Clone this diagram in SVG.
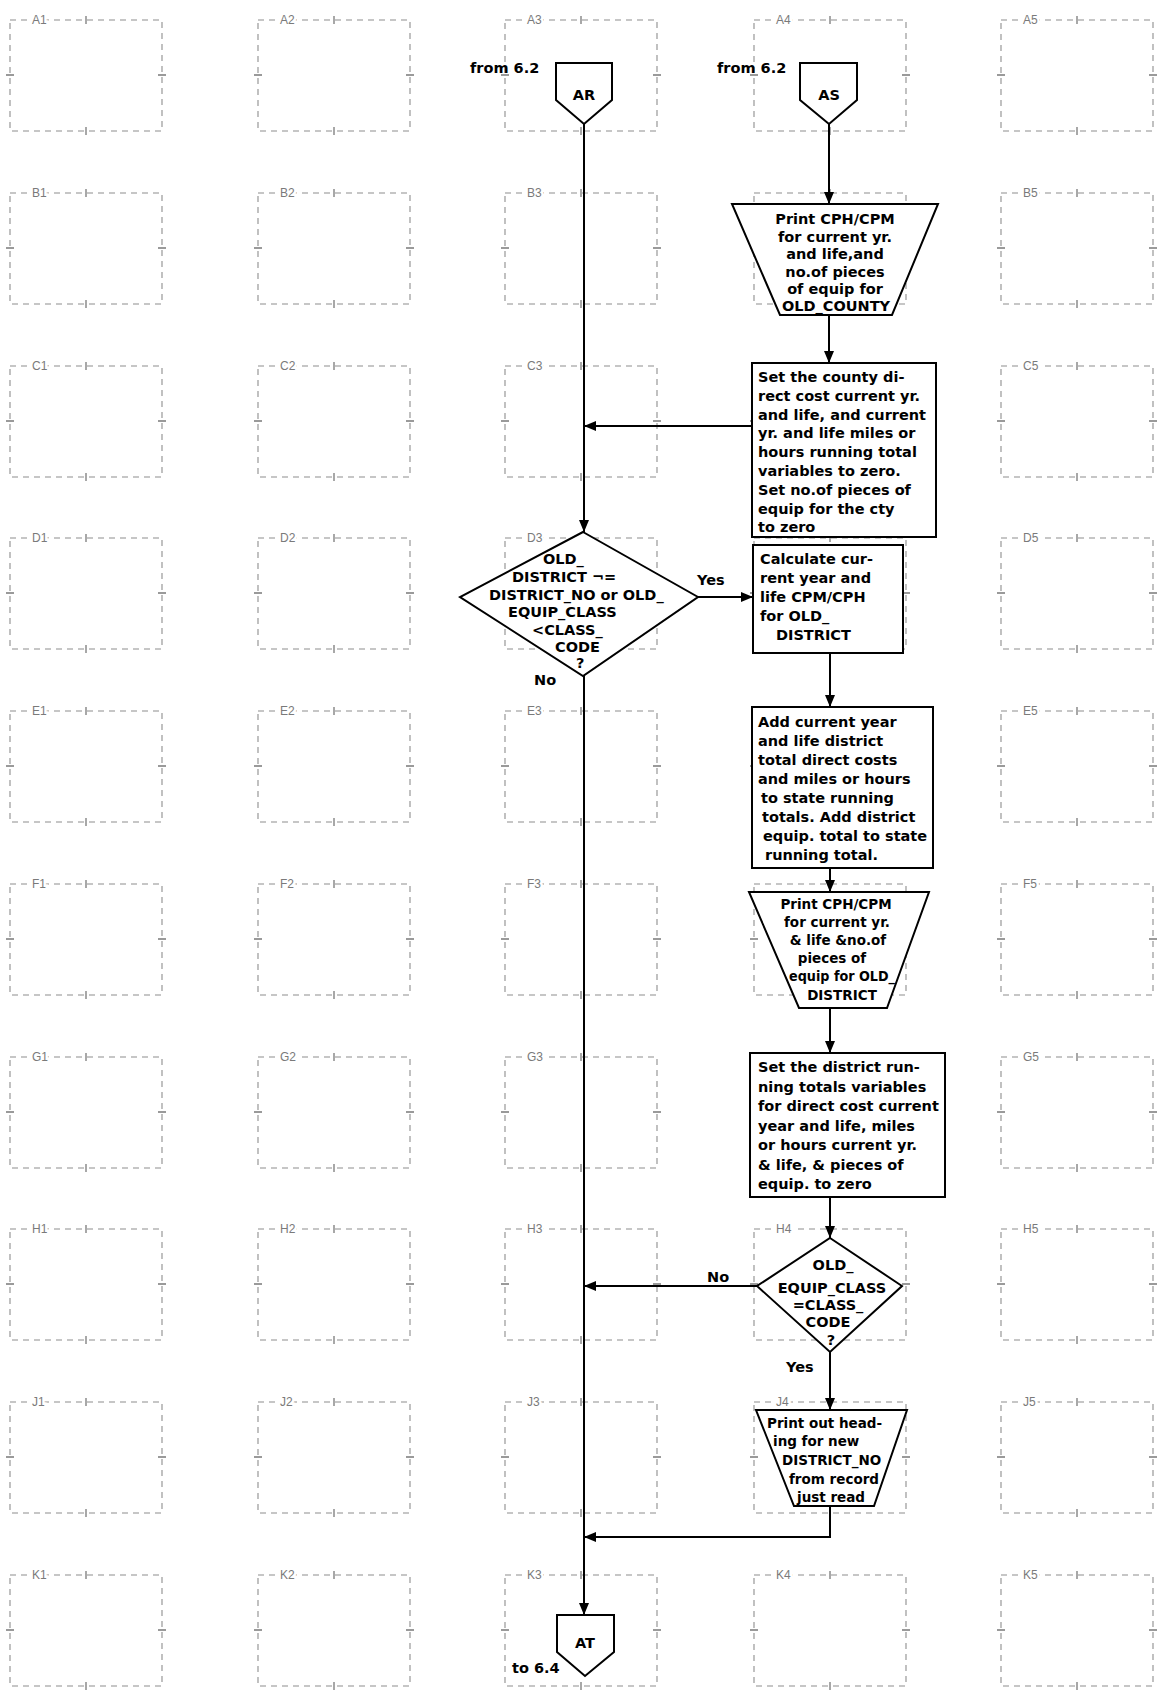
<svg xmlns="http://www.w3.org/2000/svg" xmlns:xlink="http://www.w3.org/1999/xlink" width="1167" height="1691" viewBox="0 0 1167 1691">
<defs>
<style>
.cellbox{fill:none;stroke:#8e8e8e;stroke-width:1.1;stroke-dasharray:6 5}
.tick{stroke:#7a7a7a;stroke-width:1.3}
.glabel{font-family:"Liberation Sans",Arial,sans-serif;font-size:12px;fill:#7a7a7a;stroke:#fff;stroke-width:5px;paint-order:stroke}
.shape{fill:#fff;stroke:#000;stroke-width:2}
.t{font-family:"DejaVu Sans","Liberation Sans",sans-serif;font-weight:bold;font-size:14.5px;fill:#000}
.s{font-size:13.5px}
.c{text-anchor:middle}
.edge{fill:none;stroke:#000;stroke-width:2}
</style>
<marker id="arrow" viewBox="0 0 12 10" refX="12" refY="5" markerWidth="12" markerHeight="10" markerUnits="userSpaceOnUse" orient="auto">
<path d="M0,0 L12,5 L0,10 z" fill="#000"/>
</marker>
<g id="cell">
<rect class="cellbox" x="0" y="0" width="152" height="111"/>
<path class="tick" d="M76,-4V4M76,107V115M-4,55H4M148,55H156"/>
</g>
</defs>
<rect width="1167" height="1691" fill="#fff"/>

<!-- reference grid: rows A-K, columns 1-5 -->
<g id="grid">
<use xlink:href="#cell" x="10" y="20"/><use xlink:href="#cell" x="258" y="20"/><use xlink:href="#cell" x="505" y="20"/><use xlink:href="#cell" x="754" y="20"/><use xlink:href="#cell" x="1001" y="20"/>
<use xlink:href="#cell" x="10" y="193"/><use xlink:href="#cell" x="258" y="193"/><use xlink:href="#cell" x="505" y="193"/><use xlink:href="#cell" x="754" y="193"/><use xlink:href="#cell" x="1001" y="193"/>
<use xlink:href="#cell" x="10" y="366"/><use xlink:href="#cell" x="258" y="366"/><use xlink:href="#cell" x="505" y="366"/><use xlink:href="#cell" x="754" y="366"/><use xlink:href="#cell" x="1001" y="366"/>
<use xlink:href="#cell" x="10" y="538"/><use xlink:href="#cell" x="258" y="538"/><use xlink:href="#cell" x="505" y="538"/><use xlink:href="#cell" x="754" y="538"/><use xlink:href="#cell" x="1001" y="538"/>
<use xlink:href="#cell" x="10" y="711"/><use xlink:href="#cell" x="258" y="711"/><use xlink:href="#cell" x="505" y="711"/><use xlink:href="#cell" x="754" y="711"/><use xlink:href="#cell" x="1001" y="711"/>
<use xlink:href="#cell" x="10" y="884"/><use xlink:href="#cell" x="258" y="884"/><use xlink:href="#cell" x="505" y="884"/><use xlink:href="#cell" x="754" y="884"/><use xlink:href="#cell" x="1001" y="884"/>
<use xlink:href="#cell" x="10" y="1057"/><use xlink:href="#cell" x="258" y="1057"/><use xlink:href="#cell" x="505" y="1057"/><use xlink:href="#cell" x="754" y="1057"/><use xlink:href="#cell" x="1001" y="1057"/>
<use xlink:href="#cell" x="10" y="1229"/><use xlink:href="#cell" x="258" y="1229"/><use xlink:href="#cell" x="505" y="1229"/><use xlink:href="#cell" x="754" y="1229"/><use xlink:href="#cell" x="1001" y="1229"/>
<use xlink:href="#cell" x="10" y="1402"/><use xlink:href="#cell" x="258" y="1402"/><use xlink:href="#cell" x="505" y="1402"/><use xlink:href="#cell" x="754" y="1402"/><use xlink:href="#cell" x="1001" y="1402"/>
<use xlink:href="#cell" x="10" y="1575"/><use xlink:href="#cell" x="258" y="1575"/><use xlink:href="#cell" x="505" y="1575"/><use xlink:href="#cell" x="754" y="1575"/><use xlink:href="#cell" x="1001" y="1575"/>
<g class="glabel">
<text x="32" y="24">A1</text><text x="280" y="24">A2</text><text x="527" y="24">A3</text><text x="776" y="24">A4</text><text x="1023" y="24">A5</text>
<text x="32" y="197">B1</text><text x="280" y="197">B2</text><text x="527" y="197">B3</text><text x="1023" y="197">B5</text>
<text x="32" y="370">C1</text><text x="280" y="370">C2</text><text x="527" y="370">C3</text><text x="1023" y="370">C5</text>
<text x="32" y="542">D1</text><text x="280" y="542">D2</text><text x="527" y="542">D3</text><text x="1023" y="542">D5</text>
<text x="32" y="715">E1</text><text x="280" y="715">E2</text><text x="527" y="715">E3</text><text x="1023" y="715">E5</text>
<text x="32" y="888">F1</text><text x="280" y="888">F2</text><text x="527" y="888">F3</text><text x="1023" y="888">F5</text>
<text x="32" y="1061">G1</text><text x="280" y="1061">G2</text><text x="527" y="1061">G3</text><text x="1023" y="1061">G5</text>
<text x="32" y="1233">H1</text><text x="280" y="1233">H2</text><text x="527" y="1233">H3</text><text x="776" y="1233">H4</text><text x="1023" y="1233">H5</text>
<text x="32" y="1406">J1</text><text x="280" y="1406">J2</text><text x="527" y="1406">J3</text><text x="776" y="1406">J4</text><text x="1023" y="1406">J5</text>
<text x="32" y="1579">K1</text><text x="280" y="1579">K2</text><text x="527" y="1579">K3</text><text x="776" y="1579">K4</text><text x="1023" y="1579">K5</text>
</g>
</g>

<!-- flow lines -->
<g id="connectors">
<path class="edge" d="M584,124V532" marker-end="url(#arrow)"/>
<path class="edge" d="M584,676V1615" marker-end="url(#arrow)"/>
<path class="edge" d="M829,124V204" marker-end="url(#arrow)"/>
<path class="edge" d="M829,315V363" marker-end="url(#arrow)"/>
<path class="edge" d="M752,426H584" marker-end="url(#arrow)"/>
<path class="edge" d="M698,597H753" marker-end="url(#arrow)"/>
<path class="edge" d="M830,653V707" marker-end="url(#arrow)"/>
<path class="edge" d="M830,868V892" marker-end="url(#arrow)"/>
<path class="edge" d="M830,1008V1053" marker-end="url(#arrow)"/>
<path class="edge" d="M830,1197V1238" marker-end="url(#arrow)"/>
<path class="edge" d="M757,1286H584" marker-end="url(#arrow)"/>
<path class="edge" d="M830,1352V1410" marker-end="url(#arrow)"/>
<path class="edge" d="M830,1506V1537H584" marker-end="url(#arrow)"/>
<text class="t" x="697" y="585" font-size="14">Yes</text>
<text class="t" x="534" y="685" font-size="14">No</text>
<text class="t" x="707" y="1282" font-size="14">No</text>
<text class="t" x="786" y="1372" font-size="14">Yes</text>
</g>

<!-- entry connector AR -->
<g id="node-AR">
<path class="shape" d="M556,63H612V100L584,124L556,100Z"/>
<text class="t c" x="584" y="100" font-size="15">AR</text>
<text class="t" x="470" y="73" font-size="15">from 6.2</text>
</g>

<!-- entry connector AS -->
<g id="node-AS">
<path class="shape" d="M800,63H857V100L829,124L800,100Z"/>
<text class="t c" x="829" y="100" font-size="15">AS</text>
<text class="t" x="717" y="73" font-size="15">from 6.2</text>
</g>

<!-- print county figures -->
<g id="node-print-county">
<path class="shape" d="M732,204H938L892,315H780Z"/>
<g class="t c">
<text x="835" y="224">Print CPH/CPM</text>
<text x="835" y="241.5">for current yr.</text>
<text x="835" y="259">and life,and</text>
<text x="835" y="276.5">no.of pieces</text>
<text x="835" y="294">of equip for</text>
<text x="836" y="311">OLD_COUNTY</text>
</g>
</g>

<!-- reset county totals -->
<g id="node-reset-county">
<rect class="shape" x="752" y="363" width="184" height="174"/>
<g class="t">
<text x="758" y="382">Set the county di-</text>
<text x="758" y="400.8">rect cost current yr.</text>
<text x="758" y="419.6">and life, and current</text>
<text x="758" y="438.4">yr. and life  miles or</text>
<text x="758" y="457.2">hours running total</text>
<text x="758" y="476">variables to zero.</text>
<text x="758" y="494.8">Set no.of pieces of</text>
<text x="758" y="513.6">equip for the cty</text>
<text x="758" y="532.4">to zero</text>
</g>
</g>

<!-- district / class break test -->
<g id="node-district-test">
<path class="shape" d="M583,532L698,597L583,676L460,597Z"/>
<g class="t">
<text x="543" y="564">OLD_</text>
<text x="512" y="582">DISTRICT ¬=</text>
<text x="489" y="600">DISTRICT_NO or OLD_</text>
<text x="508" y="617">EQUIP_CLASS</text>
<text x="532" y="635">&lt;CLASS_</text>
<text x="555" y="652">CODE</text>
<text x="576" y="668">?</text>
</g>
</g>

<!-- district cost per mile / hour -->
<g id="node-calc-district">
<rect class="shape" x="753" y="545" width="150" height="108"/>
<g class="t">
<text x="760" y="564">Calculate cur-</text>
<text x="760" y="583">rent year and</text>
<text x="760" y="602">life CPM/CPH</text>
<text x="760" y="621">for OLD_</text>
<text x="776" y="640">DISTRICT</text>
</g>
</g>

<!-- roll district into state totals -->
<g id="node-add-state">
<rect class="shape" x="752" y="707" width="181" height="161"/>
<g class="t">
<text x="758" y="727">Add current year</text>
<text x="758" y="746">and life district</text>
<text x="758" y="765">total direct costs</text>
<text x="758" y="784">and miles or hours</text>
<text x="761" y="803">to state running</text>
<text x="762" y="822">totals. Add district</text>
<text x="763" y="841">equip. total to state</text>
<text x="765" y="860">running total.</text>
</g>
</g>

<!-- print district figures -->
<g id="node-print-district">
<path class="shape" d="M749,892H929L887,1008H799Z"/>
<g class="t s c">
<text x="836" y="909">Print CPH/CPM</text>
<text x="837" y="927">for current yr.</text>
<text x="838" y="945">&amp; life &amp;no.of</text>
<text x="832" y="963">pieces of</text>
<text x="842" y="981" textLength="106" lengthAdjust="spacingAndGlyphs">equip for OLD_</text>
<text x="842" y="1000">DISTRICT</text>
</g>
</g>

<!-- reset district totals -->
<g id="node-reset-district">
<rect class="shape" x="750" y="1053" width="195" height="144"/>
<g class="t">
<text x="758" y="1072">Set the district run-</text>
<text x="758" y="1091.5">ning totals variables</text>
<text x="758" y="1111">for direct cost current</text>
<text x="758" y="1130.5">year and life, miles</text>
<text x="758" y="1150">or hours current yr.</text>
<text x="758" y="1169.5">&amp; life, &amp; pieces of</text>
<text x="758" y="1189">equip. to zero</text>
</g>
</g>

<!-- class code test -->
<g id="node-class-test">
<path class="shape" d="M830,1238L902,1286L830,1352L757,1286Z"/>
<g class="t c">
<text x="833" y="1270">OLD_</text>
<text x="832" y="1293">EQUIP_CLASS</text>
<text x="828" y="1310">=CLASS_</text>
<text x="828" y="1327">CODE</text>
<text x="831" y="1345">?</text>
</g>
</g>

<!-- new district heading -->
<g id="node-print-heading">
<path class="shape" d="M756,1410H907L874,1506H794Z"/>
<g class="t s">
<text x="767" y="1428">Print out head-</text>
<text x="773" y="1446">ing for new</text>
<text x="782" y="1465">DISTRICT_NO</text>
<text x="789" y="1484">from record</text>
<text x="797" y="1502">just read</text>
</g>
</g>

<!-- exit connector AT -->
<g id="node-AT">
<path class="shape" d="M557,1615H614V1652L585,1676L557,1652Z"/>
<text class="t c" x="585" y="1648" font-size="15">AT</text>
<text class="t" x="512" y="1673" font-size="15">to 6.4</text>
</g>
</svg>
